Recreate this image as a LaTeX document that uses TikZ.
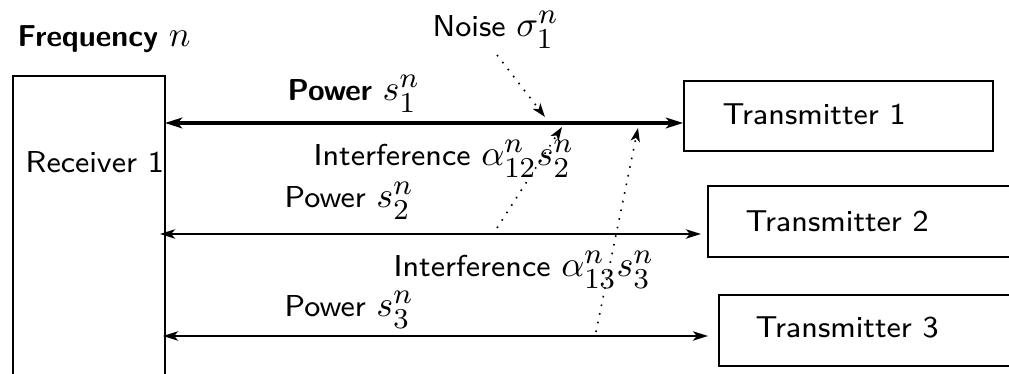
\documentclass[tikz,border=0pt]{standalone}
\usetikzlibrary{arrows.meta,fit}
\DeclareMathSizes{9.6}{9.6}{7.6}{6}
\DeclareMathSizes{8.4}{8.4}{6.3}{5}
\newcommand\lblmath[1]{{\fontsize{9.6}{11}\selectfont$#1$}}
\begin{document}
\begin{tikzpicture}[x=0.27778pt,y=-0.27778pt,
  txt/.style={anchor=base west,inner sep=0pt,font=\fontsize{8.4}{10}\selectfont\sffamily},
  box/.style={draw,line width=0.5pt,inner sep=0pt},
  sig/.style={line width=0.5pt,{Stealth[length=4.2pt,width=2.6pt,inset=1.1pt]}-{Stealth[length=4.2pt,width=2.6pt,inset=1.1pt]}},
  sigbold/.style={line width=0.85pt,{Stealth[length=4.8pt,width=3pt,inset=1.3pt]}-{Stealth[length=4.8pt,width=3pt,inset=1.3pt]}},
  noisy/.style={dotted,line width=0.45pt,-{Stealth[length=3.8pt,width=2.6pt,inset=1pt]}}]
\useasboundingbox (0,0) rectangle (1009,374);
\begin{scope}
\clip (0,0) rectangle (1009,374);
\node[box,fit={(13,76) (165,420)}] (rx) {};
\node[box,fit={(684,81) (993,151)}] (t1) {};
\node[box,fit={(708,186) (1050,257)}] (t2) {};
\node[box,fit={(719,295) (1050,366)}] (t3) {};
\end{scope}
\coordinate (rxE1) at (165,123);
\coordinate (rxE2) at (160,234);
\coordinate (rxE3) at (163,336);
\node[txt] (rxl) at (25,173) {Receiver 1};
\node[txt] (t1l) at (722,125) {Transmitter 1};
\node[txt] (t2l) at (745,232) {Transmitter 2};
\node[txt] (t3l) at (755,338) {Transmitter 3};
\node[txt] (freq) at (17,47) {\textbf{Frequency} \lblmath{n}};
\node[txt] (p1) at (287,101) {\textbf{Power} \lblmath{s_1^n}};
\node[txt] (noise) at (432,37) {Noise \lblmath{\sigma_1^n}};
\node[txt] (i2) at (313,166) {Interference \lblmath{\alpha_{12}^n s_2^n}};
\node[txt] (p2) at (284,208) {Power \lblmath{s_2^n}};
\node[txt] (i3) at (393,277) {Interference \lblmath{\alpha_{13}^n s_3^n}};
\node[txt] (p3) at (284,317) {Power \lblmath{s_3^n}};
% signal arrows
\coordinate (tx1W) at (t1.west |- rxE1);
\coordinate (tx2W) at (701,234);
\coordinate (tx3W) at (708,336);
\draw[sigbold] (rxE1) -- (tx1W);
\draw[sig] (rxE2) -- (tx2W);
\draw[sig] (rxE3) -- (tx3W);
% dotted arrows
\coordinate (ns) at (497,55);
\coordinate (ne) at (545,117);
\coordinate (a2s) at (497,228);
\coordinate (a2e) at (562,127);
\coordinate (a3s) at (596,332);
\coordinate (a3e) at (638,128);
\draw[noisy] (ns) -- (ne);
\draw[noisy] (a2s) -- (a2e);
\draw[noisy] (a3s) -- (a3e);
\end{tikzpicture}
\end{document}
